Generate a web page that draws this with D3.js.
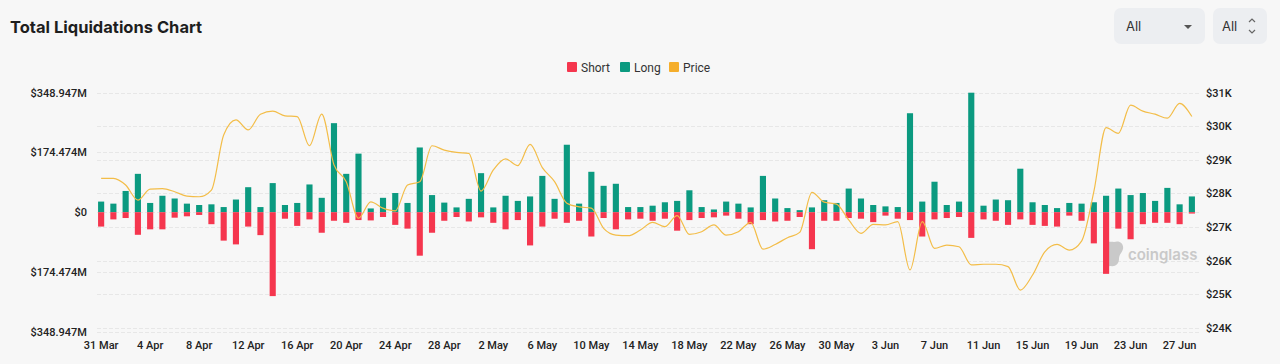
<!DOCTYPE html>
<html>
<head>
<meta charset="utf-8">
<script src="https://cdn.jsdelivr.net/npm/d3@7/dist/d3.min.js"></script>
<style>
  html, body { margin: 0; padding: 0; background: #f7f7f7; }
  svg { display: block; font-family: Roboto, "Noto Sans", sans-serif; }
</style>
</head>
<body>
<div id="chart"></div>
<script>
// dates (one bar per day)
const days = [
  "31 Mar",
  "1 Apr","2 Apr","3 Apr","4 Apr","5 Apr","6 Apr","7 Apr","8 Apr","9 Apr","10 Apr",
  "11 Apr","12 Apr","13 Apr","14 Apr","15 Apr","16 Apr","17 Apr","18 Apr","19 Apr","20 Apr",
  "21 Apr","22 Apr","23 Apr","24 Apr","25 Apr","26 Apr","27 Apr","28 Apr","29 Apr","30 Apr",
  "1 May","2 May","3 May","4 May","5 May","6 May","7 May","8 May","9 May","10 May",
  "11 May","12 May","13 May","14 May","15 May","16 May","17 May","18 May","19 May","20 May",
  "21 May","22 May","23 May","24 May","25 May","26 May","27 May","28 May","29 May","30 May","31 May",
  "1 Jun","2 Jun","3 Jun","4 Jun","5 Jun","6 Jun","7 Jun","8 Jun","9 Jun","10 Jun",
  "11 Jun","12 Jun","13 Jun","14 Jun","15 Jun","16 Jun","17 Jun","18 Jun","19 Jun","20 Jun",
  "21 Jun","22 Jun","23 Jun","24 Jun","25 Jun","26 Jun","27 Jun","28 Jun"
];

// long liquidations, $M
const longVals = [
  31,25,62,112,27,48,40,25,21,23,
  15,37,73,15,85,21,27,81,42,260,
  112,171,11,42,56,27,189,50,28,14,
  39,114,14,48,33,46,106,39,197,25,
  118,77,83,15,15,19,29,33,64,15,
  8,31,25,14,106,40,12,6,14,35,
  27,69,40,21,17,15,289,31,89,21,
  31,348.947,19,37,35,127,29,21,12,27,
  25,29,48,69,50,56,33,71,23,46
];

// short liquidations, $M
const shortVals = [
  42,21,17,66,50,50,16,12,8,35,
  83,94,42,67,245,19,40,21,60,25,
  31,23,24,14,37,48,127,60,25,14,
  27,15,31,50,23,97,42,19,31,25,
  71,17,50,21,19,25,19,54,23,17,
  15,10,19,35,23,27,25,14,108,25,
  25,17,19,29,10,19,23,71,21,17,
  14,75,21,25,37,21,37,40,42,10,
  25,91,180,48,79,35,31,31,35,4
];

// BTC price, $K
const priceVals = [
  28.45,28.45,28.25,27.80,28.13,28.14,28.05,27.92,27.90,28.10,
  29.74,30.19,29.89,30.36,30.45,30.31,30.29,29.42,30.36,28.85,
  28.35,27.26,27.75,27.56,27.48,28.25,28.35,29.42,29.29,29.22,
  29.19,28.07,28.70,29.03,28.83,29.46,28.77,28.35,27.71,27.60,
  27.56,26.96,26.76,26.74,26.91,27.14,27.01,27.34,26.78,26.86,
  27.06,26.76,26.86,27.14,26.34,26.48,26.68,26.84,28.03,27.74,
  27.68,27.21,26.81,27.08,27.06,27.16,25.72,27.16,26.36,26.46,
  26.41,25.87,25.89,25.89,25.82,25.12,25.57,26.26,26.48,26.31,
  26.58,28.05,29.96,29.79,30.63,30.45,30.36,30.24,30.68,30.29
];

const leftTicks = [-348.947, -174.474, 0, 174.474, 348.947];
const rightTicks = [24, 25, 26, 27, 28, 29, 30, 31];
const legendItems = ["Short", "Long", "Price"];

const W = 1280, H = 364;
const colShort = "#f5364e", colLong = "#0b9a80", colPrice = "#f3bd48";

const svg = d3.select("#chart").append("svg")
  .attr("width", W).attr("height", H);

svg.append("rect").attr("width", W).attr("height", H).attr("fill", "#f7f7f7");

// title
svg.append("text")
  .attr("x", 10).attr("y", 33)
  .attr("font-family", "Inter, sans-serif")
  .attr("font-size", 16.5).attr("font-weight", 700)
  .attr("fill", "#1e1e1e")
  .text("Total Liquidations Chart");

// dropdowns (top right)
const dd = svg.append("g").attr("font-family", "Inter, sans-serif").attr("font-size", 13).attr("fill", "#333");
dd.append("rect").attr("x", 1114).attr("y", 8).attr("width", 91).attr("height", 36).attr("rx", 7).attr("fill", "#eceef1");
dd.append("text").attr("x", 1126).attr("y", 31).attr("fill", "#333").text("All");
dd.append("path").attr("d", "M1184,25 L1192,25 L1188,29 Z").attr("fill", "#555");
dd.append("rect").attr("x", 1213).attr("y", 8).attr("width", 54).attr("height", 36).attr("rx", 7).attr("fill", "#eceef1");
dd.append("text").attr("x", 1222).attr("y", 31).attr("fill", "#333").text("All");
dd.append("path").attr("d", "M1249,22 L1252,19 L1255,22 M1249,30 L1252,33 L1255,30")
  .attr("fill", "none").attr("stroke", "#666").attr("stroke-width", 1.2);

// scales
const x = d3.scaleBand().domain(days).range([95, 1198]).paddingInner(0.5).paddingOuter(0.25);
const yL = d3.scaleLinear().domain([-348.947, 348.947]).range([331.7, 92.7]);
const yR = d3.scaleLinear().domain([24, 31]).range([327.7, 92.7]);

// gridlines
const grid = svg.append("g").attr("stroke", "#e7e7e7").attr("stroke-dasharray", "4,2");
grid.selectAll(".gl").data(leftTicks).join("line")
  .attr("x1", 97).attr("x2", 1200)
  .attr("y1", d => Math.round(yL(d)) + 0.5).attr("y2", d => Math.round(yL(d)) + 0.5);
grid.selectAll(".gr").data(rightTicks).join("line")
  .attr("x1", 97).attr("x2", 1200)
  .attr("y1", d => Math.round(yR(d)) + 0.5).attr("y2", d => Math.round(yR(d)) + 0.5);

// left axis
const fmtL = d => d === 0 ? "$0" : "$" + d3.format(".3f")(Math.abs(d)) + "M";
const axL = svg.append("g").attr("transform", "translate(87,0)")
  .call(d3.axisLeft(yL).tickValues(leftTicks).tickFormat(fmtL).tickSize(0).tickPadding(0));
axL.select(".domain").remove();
axL.selectAll("text").attr("font-size", 11).attr("font-weight", 500).attr("fill", "#222")
  .attr("font-family", "Roboto, sans-serif");

// right axis
const axR = svg.append("g").attr("transform", "translate(1206,0)")
  .call(d3.axisRight(yR).tickValues(rightTicks).tickFormat(d => "$" + d + "K").tickSize(0).tickPadding(0));
axR.select(".domain").remove();
axR.selectAll("text").attr("font-size", 11).attr("font-weight", 500).attr("fill", "#222")
  .attr("font-family", "Roboto, sans-serif");

// bottom axis
const axB = svg.append("g").attr("transform", "translate(0,339)")
  .call(d3.axisBottom(x).tickValues(days.filter((d, i) => i % 4 === 0)).tickSize(0).tickPadding(0));
axB.select(".domain").remove();
axB.selectAll("text").attr("font-size", 11).attr("font-weight", 500).attr("fill", "#222")
  .attr("font-family", "Roboto, sans-serif").attr("dy", "0.9em");

// watermark
const wm = svg.append("g").attr("fill", "#c9c9c9");
wm.append("path")
  .attr("d", "M1103,248 C1103,242 1110,241 1114,242 C1120,240 1124,244 1123,249 C1122,253 1119,254 1119,259 C1119,264 1115,267 1111,266 C1107,267 1106,263 1106,259 C1104,256 1103,252 1103,248 Z");
wm.append("text").attr("x", 1128).attr("y", 260)
  .attr("font-family", "Inter, sans-serif").attr("font-size", 15).attr("font-weight", 600)
  .text("coinglass");

// bars
const bars = svg.append("g");
bars.selectAll(".long").data(longVals).join("rect")
  .attr("x", (d, i) => x(days[i])).attr("width", x.bandwidth())
  .attr("y", d => yL(d)).attr("height", d => yL(0) - yL(d))
  .attr("fill", colLong);
bars.selectAll(".short").data(shortVals).join("rect")
  .attr("x", (d, i) => x(days[i])).attr("width", x.bandwidth())
  .attr("y", yL(0)).attr("height", d => yL(0) - yL(d))
  .attr("fill", colShort);

// price line
const line = d3.line()
  .x((d, i) => x(days[i]) + x.bandwidth() / 2)
  .y(d => yR(d))
  .curve(d3.curveMonotoneX);
svg.append("path").datum(priceVals)
  .attr("fill", "none").attr("stroke", colPrice).attr("stroke-width", 1.2)
  .attr("d", line);

// legend
const legColors = [colShort, colLong, "#f5ae2b"];
const legX = [567, 620, 669];
const leg = svg.append("g");
legendItems.forEach((name, i) => {
  leg.append("rect").attr("x", legX[i]).attr("y", 62).attr("width", 10).attr("height", 10)
    .attr("rx", 1).attr("fill", legColors[i]);
  leg.append("text").attr("x", legX[i] + 14).attr("y", 71.5)
    .attr("font-family", "Roboto, sans-serif").attr("font-size", 12).attr("fill", "#333")
    .text(name);
});
</script>
</body>
</html>
